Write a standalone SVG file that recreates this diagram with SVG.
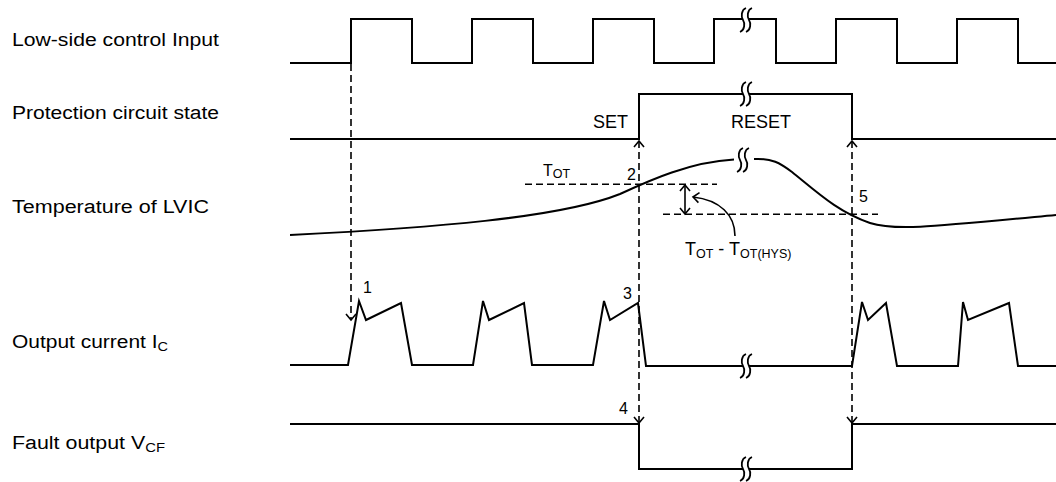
<svg xmlns="http://www.w3.org/2000/svg" width="1056" height="482" viewBox="0 0 1056 482">
<style>
  .wave { fill: none; stroke: #000; stroke-width: 2; stroke-linejoin: miter; }
  .dash { fill: none; stroke: #000; stroke-width: 1.6; stroke-dasharray: 7 4; }
  .solid { fill: none; stroke: #000; stroke-width: 1.6; }
  .lbl { font-family: "Liberation Sans", Arial, sans-serif; font-size: 18px; fill: #000; }
  .txt { font-family: "Liberation Sans", Arial, sans-serif; font-size: 16px; fill: #000; }
  .big { font-family: "Liberation Sans", Arial, sans-serif; font-size: 18px; fill: #000; }
  .sub { font-size: 12.5px; }
  .brkline { fill: none; stroke: #000; stroke-width: 1.8; }
</style>
<defs>
  <marker id="arr" viewBox="-8 -8 16 16" refX="0" refY="0" markerWidth="16" markerHeight="16" markerUnits="userSpaceOnUse" orient="auto-start-reverse">
    <path d="M-6,-5 L0,0 L-6,5" fill="none" stroke="#000" stroke-width="1.6" stroke-dasharray="none"/>
  </marker>
  <g id="brk">
    <rect x="-3" y="-3" width="6" height="6" fill="#fff"/>
    <path class="brkline" d="M0,-12 C-5,-10 -5,-3 -3,0 C-1,3 -1,10 -6,12"/>
    <path class="brkline" d="M6,-12 C1,-10 1,-3 3,0 C5,3 5,10 0,12"/>
  </g>
</defs>
<rect width="1056" height="482" fill="#fff"/>

<g id="labels">
  <text class="lbl" x="12" y="46" textLength="207" lengthAdjust="spacingAndGlyphs">Low-side control Input</text>
  <text class="lbl" x="12" y="119" textLength="207" lengthAdjust="spacingAndGlyphs">Protection circuit state</text>
  <text class="lbl" x="12" y="213" textLength="197" lengthAdjust="spacingAndGlyphs">Temperature of LVIC</text>
  <text class="lbl" x="12" y="348" textLength="156" lengthAdjust="spacingAndGlyphs">Output current I<tspan class="sub" dy="3">C</tspan></text>
  <text class="lbl" x="12" y="449" textLength="153" lengthAdjust="spacingAndGlyphs">Fault output V<tspan class="sub" dy="3">CF</tspan></text>
</g>

<g id="input-wave">
  <path class="wave" d="M290,63 H351 V19 H412 V63 H472 V19 H533 V63 H593 V19 H654 V63 H714 V19 H776 V63 H836 V19 H897 V63 H957 V19 H1018 V63 H1056"/>
  <use href="#brk" x="746" y="20"/>
</g>

<g id="state-wave">
  <path class="wave" d="M290,139 H639 V94 H852 V139 H1056"/>
  <use href="#brk" x="746" y="94"/>
  <text class="big" x="628" y="128" text-anchor="end">SET</text>
  <text class="big" x="731" y="128">RESET</text>
</g>

<g id="temperature-wave">
  <path class="dash" d="M525,184.3 H717"/>
  <path class="dash" d="M663,214.3 H878"/>
  <path class="wave" d="M290,235 C430,228 560,218 620,194 C650,180 690,162 734,159.5"/>
  <path class="wave" d="M754,159 C772,158 780,163 792,172 C818,193 838,212 870,223 C895,231 930,227 1056,215"/>
  <path class="brkline" d="M743,148 C738,150 738,157 740,160 C742,163 742,170 737,172"/>
  <path class="brkline" d="M749,148 C744,150 744,157 746,160 C748,163 748,170 743,172"/>
  <text class="txt" x="543" y="176">T<tspan class="sub" dy="2">OT</tspan></text>
  <text class="txt" x="636" y="180" text-anchor="end">2</text>
  <text class="txt" x="859" y="202">5</text>
  <path class="solid" d="M685,185 V214" marker-start="url(#arr)" marker-end="url(#arr)"/>
  <path class="solid" d="M735,236 C735,215 720,200 693,197" marker-end="url(#arr)"/>
  <text class="txt" x="685" y="255" style="font-size:18px">T<tspan class="sub" dy="3">OT</tspan><tspan dy="-3"> - T</tspan><tspan class="sub" dy="3">OT(HYS)</tspan></text>
</g>

<g id="current-wave">
  <path class="wave" d="M290,365 H348 L359,301 L366,320 L401,303 L412,365 H473 L483,301 L489,320 L524,303 L532,365 H593 L604,301 L610,320 L638,303 L646,366 H852 L862,302 L868,320 L886,303 L897,366 H958 L963,302 L968,320 L1009,303 L1018,366 H1056"/>
  <use href="#brk" x="746" y="366"/>
  <text class="txt" x="363" y="293">1</text>
  <text class="txt" x="632" y="299" text-anchor="end">3</text>
</g>

<g id="fault-wave">
  <path class="wave" d="M290,424 H639 V469 H852 V424 H1056"/>
  <use href="#brk" x="746" y="469"/>
  <text class="txt" x="628" y="414" text-anchor="end">4</text>
</g>

<g id="connectors">
  <path class="dash" d="M351,64 V320" marker-end="url(#arr)"/>
  <path class="dash" d="M639,141 V423" marker-start="url(#arr)" marker-end="url(#arr)"/>
  <path class="dash" d="M852,141 V423" marker-start="url(#arr)" marker-end="url(#arr)"/>
</g>
</svg>
